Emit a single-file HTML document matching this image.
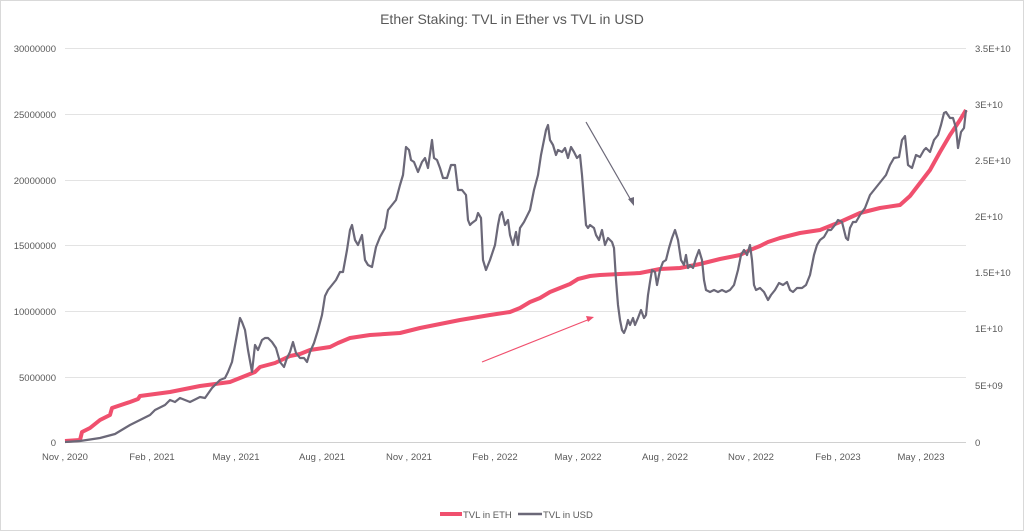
<!DOCTYPE html>
<html><head><meta charset="utf-8"><style>
body{margin:0;background:#fff}
svg{display:block;font-family:"Liberation Sans",sans-serif}
</style></head><body>
<svg width="1024" height="531" viewBox="0 0 1024 531" xmlns="http://www.w3.org/2000/svg">
<rect x="0.5" y="0.5" width="1023" height="530" fill="#fff" stroke="#d9d9d9"/>
<text x="512" y="24" text-anchor="middle" font-size="14" fill="#595959">Ether Staking: TVL in Ether vs TVL in USD</text>
<g stroke="#e3e3e3" stroke-width="1">
<line x1="65" x2="966" y1="48.5" y2="48.5"/><line x1="65" x2="966" y1="114.5" y2="114.5"/>
<line x1="65" x2="966" y1="180.5" y2="180.5"/><line x1="65" x2="966" y1="245.5" y2="245.5"/>
<line x1="65" x2="966" y1="311.5" y2="311.5"/><line x1="65" x2="966" y1="377.5" y2="377.5"/>
<line x1="65" x2="966" y1="442.5" y2="442.5" stroke="#d0d0d0"/>
</g>
<g font-size="9.5" fill="#595959" text-anchor="end">
<text x="56" y="52">30000000</text><text x="56" y="118">25000000</text><text x="56" y="184">20000000</text>
<text x="56" y="249">15000000</text><text x="56" y="315">10000000</text><text x="56" y="381">5000000</text><text x="56" y="446">0</text>
</g>
<g font-size="9.5" fill="#595959">
<text x="975" y="52">3.5E+10</text><text x="975" y="108">3E+10</text><text x="975" y="164">2.5E+10</text>
<text x="975" y="220">2E+10</text><text x="975" y="276">1.5E+10</text><text x="975" y="332">1E+10</text>
<text x="975" y="389">5E+09</text><text x="975" y="446">0</text>
</g>
<g font-size="9.5" fill="#595959" text-anchor="middle">
<text x="65" y="460">Nov , 2020</text><text x="152" y="460">Feb , 2021</text><text x="236" y="460">May , 2021</text>
<text x="322" y="460">Aug , 2021</text><text x="409" y="460">Nov , 2021</text><text x="495" y="460">Feb , 2022</text>
<text x="578" y="460">May , 2022</text><text x="665" y="460">Aug , 2022</text><text x="751" y="460">Nov , 2022</text>
<text x="838" y="460">Feb , 2023</text><text x="921" y="460">May , 2023</text>
</g>
<polyline fill="none" stroke="#f0506e" stroke-width="4" stroke-linejoin="round" points="65,441 80,440 82,432 90,428 100,420 110,415 112,408 130,402 138,399 140,396 170,392 200,386 230,382 240,378 255,372 260,367 275,363 290,356 300,354 310,350 330,347 338,343 350,338 370,335 400,333 420,328 460,320 490,315 510,312 520,308 530,302 540,298 550,292 560,288 570,284 578,279 590,276 600,275 620,274 640,273 660,269 680,268 700,264 720,259 740,255 750,250 760,246 768,242 780,238 800,233 820,230 840,222 860,213 880,208 900,205 910,196 920,183 930,170 940,152 950,135 960,120 966,110"/>
<polyline fill="none" stroke="#6b6878" stroke-width="2.2" stroke-linejoin="round" points="65,442 80,441 100,438 115,434 125,428 130,425 140,420 150,415 155,410 165,405 170,400 175,402 180,398 190,402 200,397 205,398 212,388 220,380 225,378 228,372 232,362 236,340 240,318 242,322 245,330 248,350 252,372 255,345 258,350 262,340 265,338 268,338 272,342 276,348 280,362 284,367 287,358 290,352 293,342 296,353 300,358 304,358 307,362 310,352 314,343 318,330 322,315 325,296 328,290 332,285 336,280 340,272 343,272 347,250 350,230 352,225 355,240 358,245 362,235 365,260 368,265 372,267 376,247 380,237 385,228 388,210 392,205 396,200 400,185 403,175 406,147 409,150 411,160 414,162 418,172 422,162 425,158 428,168 432,140 434,158 437,160 440,168 443,178 447,178 451,165 455,165 458,190 462,190 466,195 468,220 470,225 472,223 476,220 478,213 481,218 483,260 486,270 490,260 495,245 498,225 500,215 502,212 505,225 508,220 510,235 513,245 516,232 518,245 520,228 524,222 530,210 534,190 538,175 541,155 544,140 546,130 548,125 550,140 553,145 556,155 558,150 562,152 565,148 568,158 571,147 574,152 577,158 580,155 582,175 584,200 586,225 588,228 590,225 594,228 596,235 599,240 602,230 605,245 608,238 612,242 614,248 616,280 618,305 620,320 622,330 624,333 626,328 628,320 630,325 633,318 635,325 638,318 641,310 644,318 646,315 648,295 650,282 652,270 655,272 657,285 660,270 663,262 666,260 669,248 672,238 675,230 678,240 681,260 684,265 686,255 688,268 690,265 693,268 696,258 699,250 702,260 704,280 706,290 710,292 714,290 718,292 722,290 726,292 730,290 734,285 738,270 741,255 744,250 747,255 750,245 752,260 754,285 756,290 760,288 764,292 768,300 771,295 775,290 779,283 783,285 787,282 790,290 793,292 797,288 802,288 806,285 810,275 814,255 817,245 820,240 824,237 828,230 831,230 835,225 838,220 842,222 846,238 848,240 850,228 853,222 856,222 860,215 865,208 870,195 874,190 878,185 882,180 886,175 890,165 894,158 899,157 902,140 905,136 908,165 912,168 916,155 920,157 924,150 926,148 930,152 934,140 938,135 941,125 944,113 946,112 950,118 953,118 956,128 958,148 961,132 964,128 966,110"/>
<line x1="586" y1="122" x2="632" y2="202" stroke="#6b6878" stroke-width="1.2"/>
<polygon points="634,206 628,199 634,197" fill="#6b6878"/>
<line x1="482" y1="362" x2="590" y2="319" stroke="#f0506e" stroke-width="1.2"/>
<polygon points="594,317 586,316 588,322" fill="#f0506e"/>
<line x1="440" y1="514" x2="462" y2="514" stroke="#f0506e" stroke-width="4"/>
<text x="463" y="518" font-size="9.5" fill="#595959">TVL in ETH</text>
<line x1="518" y1="514" x2="542" y2="514" stroke="#6b6878" stroke-width="2.5"/>
<text x="543" y="518" font-size="9.5" fill="#595959">TVL in USD</text>
</svg>
</body></html>
